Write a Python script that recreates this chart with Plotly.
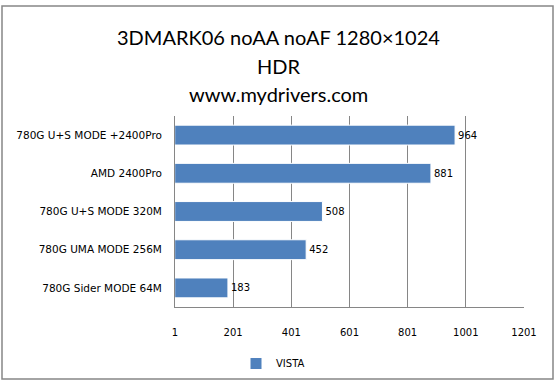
import plotly.graph_objects as go

categories = ["780G Sider MODE 64M", "780G UMA MODE 256M", "780G U+S MODE 320M",
              "AMD 2400Pro", "780G U+S MODE +2400Pro"]
values = [183, 452, 508, 881, 964]
tick_vals = [1, 201, 401, 601, 801, 1001, 1201]
series_name = "VISTA"
title_lines = ["3DMARK06 noAA noAF 1280×1024", "HDR", "www.mydrivers.com"]

W, H = 556, 390
L, R, T, B = 175, 32, 116, 78
pw, ph = W - L - R, H - T - B

def px(x):
    return (x - L) / pw

def py(y):
    return 1 - (y - T) / ph

fig = go.Figure()
fig.add_trace(go.Bar(
    y=categories, x=values, orientation="h", name=series_name,
    marker=dict(color="#4F81BD", line=dict(color="white", width=1)),
    width=0.52,
    text=[str(v) for v in values], textposition="outside",
    textfont=dict(family="DejaVu Sans", size=10, color="#000000"),
    cliponaxis=False,
))

fig.update_layout(
    width=W, height=H,
    margin=dict(l=L, r=R, t=T, b=B),
    paper_bgcolor="white", plot_bgcolor="white",
    showlegend=True,
    legend=dict(orientation="h", x=px(236), y=py(370), xanchor="left", yanchor="middle",
                font=dict(family="DejaVu Sans", size=10, color="#000"),
                itemwidth=30),
    xaxis=dict(range=[1, 1201], tickvals=tick_vals, ticktext=[str(t) for t in tick_vals],
               showgrid=True, gridcolor="#868686", gridwidth=1,
               showline=True, linecolor="#868686", linewidth=1,
               zeroline=False, ticks="", ticklen=0, ticklabelstandoff=16,
               tickfont=dict(family="DejaVu Sans", size=10, color="#000")),
    yaxis=dict(showline=True, linecolor="#868686", linewidth=1,
               ticks="", showgrid=False, ticklabelstandoff=10,
               tickfont=dict(family="DejaVu Sans", size=10.5, color="#000")),
    bargap=0.48,
)

for yy, line in zip([35, 65, 93], title_lines):
    fig.add_annotation(text=line, xref="paper", yref="paper",
                       x=px(278), y=py(yy), xanchor="center", yanchor="middle",
                       showarrow=False,
                       font=dict(family="Lato", size=20, color="#000"))

fig.add_shape(type="rect", xref="paper", yref="paper",
              x0=px(2), x1=px(553), y0=py(386), y1=py(3),
              line=dict(color="#868686", width=1.5), fillcolor="rgba(0,0,0,0)")

fig.write_html("out.html")
